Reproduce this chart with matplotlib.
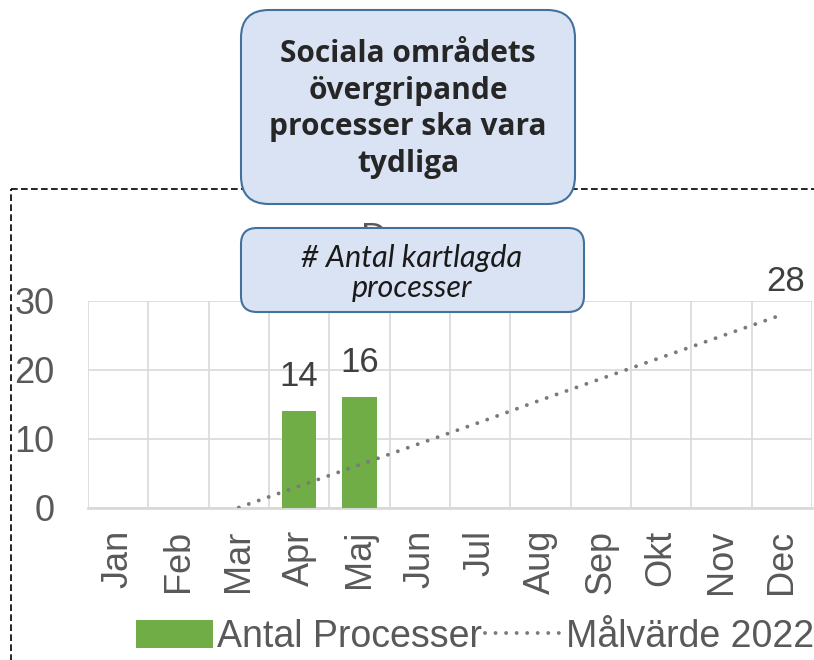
import matplotlib
matplotlib.use('Agg')
import numpy as np
import matplotlib.pyplot as plt
from matplotlib.patches import FancyBboxPatch, Rectangle, Patch
from matplotlib.lines import Line2D

# Data
months = ['Jan', 'Feb', 'Mar', 'Apr', 'Maj', 'Jun', 'Jul', 'Aug', 'Sep', 'Okt', 'Nov', 'Dec']
antal_processer = [np.nan, np.nan, np.nan, 14, 16, np.nan, np.nan, np.nan, np.nan, np.nan, np.nan, np.nan]
malvarde_2022 = [np.nan, np.nan, 0, 3.1, 6.2, 9.3, 12.4, 15.6, 18.7, 21.8, 24.9, 28]
y_ticks = [0, 10, 20, 30]

title_text = "Sociala områdets\növergripande\nprocesser ska vara\ntydliga"
sub_text = "# Antal kartlagda\nprocesser"

W, H = 814, 660
fig = plt.figure(figsize=(W / 100, H / 100), dpi=100)
plt.rcParams['font.family'] = ['Liberation Sans', 'DejaVu Sans']

grey_txt = '#595959'
grid_col = '#d9d9d9'
green = '#70ad47'
dot_style = (0, (0.01, 2.7))

# main chart area (pixel box 88..812 x 301..507)
ax = fig.add_axes([88 / W, (H - 507.5) / H, (812 - 88) / W, (507.5 - 301) / H])
ax.set_zorder(1)
x = np.arange(len(months))

ax.bar(x, antal_processer, width=0.57, color=green, zorder=3)
ax.plot(x, malvarde_2022, color='#7a7a7a', lw=2.8, linestyle=dot_style,
        dash_capstyle='round', zorder=4)

# data labels
for xi, v in zip(x, antal_processer):
    if not np.isnan(v):
        ax.annotate(f'{v:.0f}', (xi, v), xytext=(0, 13), textcoords='offset points',
                    ha='center', va='bottom', fontsize=25, color='#404040')
ax.annotate(f'{malvarde_2022[-1]:.0f}', (x[-1], malvarde_2022[-1]), xytext=(3, 12),
            textcoords='offset points', ha='center', va='bottom', fontsize=25, color='#404040')

ax.set_xlim(-0.5, 11.5)
ax.set_ylim(0, 30)
ax.set_yticks(y_ticks)
ax.set_xticks(x)
ax.set_xticklabels(months, rotation=90)
ax.set_xticks(np.arange(-0.5, 12, 1), minor=True)
ax.tick_params(axis='both', which='both', length=0, labelsize=26, labelcolor=grey_txt)
ax.tick_params(axis='y', pad=24)
ax.tick_params(axis='x', pad=16)
ax.grid(axis='y', which='major', color=grid_col, lw=1.2, zorder=0)
ax.grid(axis='x', which='minor', color=grid_col, lw=1.2, zorder=0)
ax.set_axisbelow(True)
for s in ['top', 'right', 'left']:
    ax.spines[s].set_visible(False)
ax.spines['bottom'].set_color(grid_col)
ax.spines['bottom'].set_linewidth(2)

# legend
handles = [Patch(facecolor=green, edgecolor='none'),
           Line2D([0], [0], color='#7a7a7a', lw=2.8, linestyle=dot_style, dash_capstyle='round')]
fig.legend(handles, ['Antal Processer', 'Målvärde 2022'], loc='center', ncol=2,
           bbox_to_anchor=(475 / W, 1 - 637 / H), frameon=False, fontsize=27,
           labelcolor=grey_txt, handlelength=2.05, handleheight=0.77,
           handletextpad=0.1, columnspacing=0.1, borderpad=0)

# overlay in pixel coordinates for the frame and the text boxes
ov = fig.add_axes([0, 0, 1, 1])
ov.set_zorder(2)
ov.set_xlim(0, W)
ov.set_ylim(H, 0)
ov.axis('off')
ov.patch.set_alpha(0)

ov.add_patch(Rectangle((11, 189), 900, 600, fill=False, edgecolor='black',
                       lw=1.2, linestyle=(0, (4, 2))))

# hidden chart title peeking out behind the small box
ov.text(374, 222, 'D', ha='center', va='top', fontsize=26, color=grey_txt, zorder=2)

box_face = '#dae3f3'
box_edge = '#41719c'
ov.add_patch(FancyBboxPatch((241, 10), 334, 194, boxstyle='round,pad=0,rounding_size=28',
                            facecolor=box_face, edgecolor=box_edge, lw=1.5, zorder=3))
ov.text(408, 109, title_text, ha='center', va='center', fontsize=21.5, fontweight='bold',
        family='Open Sans', color='#262626', linespacing=1.3, zorder=4)

ov.add_patch(FancyBboxPatch((241, 228), 343, 84, boxstyle='round,pad=0,rounding_size=16',
                            facecolor=box_face, edgecolor=box_edge, lw=1.5, zorder=3))
ov.text(412, 273, sub_text, ha='center', va='center', fontsize=22, style='italic',
        family='Lato', color='#1a1a1a', linespacing=1.12, zorder=4)

fig.savefig('out.png', dpi=100)
